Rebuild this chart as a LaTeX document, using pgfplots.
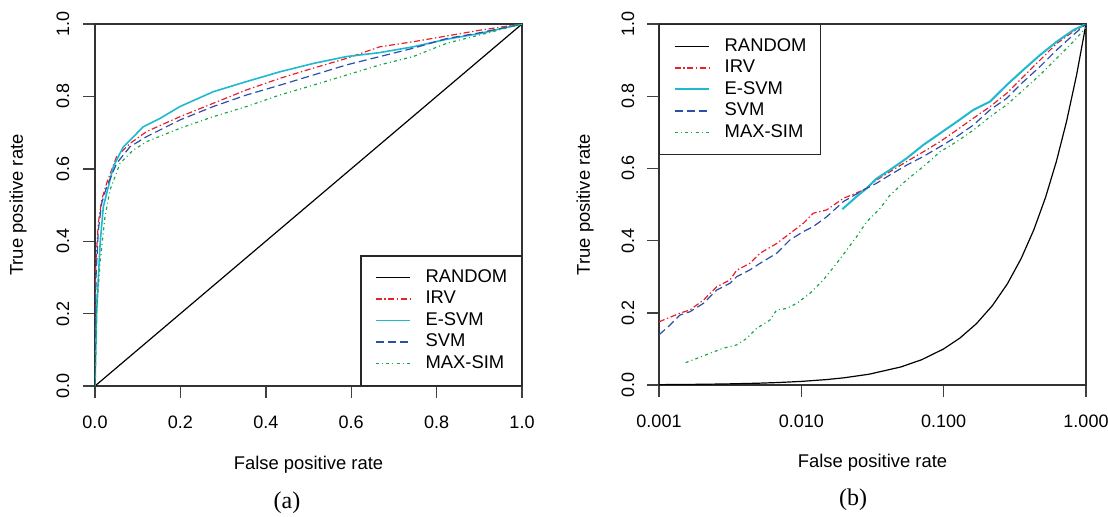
\documentclass[border=0pt]{standalone}
\usepackage{fontspec}
\setmainfont{Liberation Sans}
\newfontfamily\capfont{Liberation Serif}
\usepackage{pgfplots}
\pgfplotsset{compat=1.18}

\definecolor{cRed}{RGB}{232,32,42}
\definecolor{cCyan}{RGB}{30,184,208}
\definecolor{cBlue}{RGB}{42,80,170}
\definecolor{cGreen}{RGB}{24,168,72}

\tikzset{ylab/.style={rotate=90, anchor=center, inner sep=0pt, font=\fontsize{9}{10}\selectfont}}

\pgfplotsset{
  rocbase/.style={
    scale only axis, width=213.5pt, height=181pt,
    anchor=south west,
    ymin=0, ymax=1,
    ytick={0,0.2,...,1.0}, yticklabels={},
    xtick pos=left, ytick pos=left,
    xticklabel style={yshift=-5.5pt},
    /pgf/number format/assume math mode=true,
    tick align=outside, major tick length=6pt,
    axis line style={line width=0.7pt, black!80},
    major tick style={black!75, line width=0.7pt},
    tick label style={font=\fontsize{9}{10}\selectfont},
    label style={font=\fontsize{9.2}{10}\selectfont},
    xlabel={False positive rate},
    ylabel={True positive rate},
    legend style={draw=black!85, line width=0.7pt, fill=white,
      font=\fontsize{9.2}{10}\selectfont,
      inner xsep=7pt, inner ysep=5.5pt, row sep=0pt,
      nodes={inner xsep=0pt, inner ysep=0pt, minimum height=10.75pt, anchor=west},
      /tikz/every odd column/.append style={column sep=7.5pt}},
    legend cell align=left,
    legend image code/.code={\draw[#1] (0pt,0pt) -- (17pt,0pt);},
  },
  rnd/.style={black, line width=0.6pt},
  irv/.style={cRed, line width=0.6pt, dash pattern=on 3pt off 1.3pt on 0.7pt off 1.3pt},
  esvm/.style={cCyan, line width=0.8pt},
  svm/.style={cBlue, line width=0.6pt, dash pattern=on 4pt off 2pt},
  msim/.style={cGreen, line width=0.6pt, dash pattern=on 1.5pt off 1.6pt on 0.5pt off 1.6pt},
}

\begin{document}
\begin{tikzpicture}
\path[use as bounding box] (0,0) rectangle (554pt,258pt);

% (a) linear ROC
\begin{axis}[rocbase, at={(47.5pt,65pt)},
  xmin=0, xmax=1, xtick={0,0.2,...,1.0},
  xticklabels={0.0,0.2,0.4,0.6,0.8,1.0},
  xlabel style={at={(axis description cs:0.5,-0.218)}, anchor=center},
  ylabel style={at={(axis description cs:-0.1803,0.5)}, anchor=center},
  legend style={at={(1,0)}, anchor=south east}]
\addplot[rnd] coordinates {(0,0)(1,1)};
\addplot[irv] coordinates {(0,0)(0.0008,0.25)(0.0023,0.348)(0.0078,0.45)(0.0156,0.514)(0.0273,0.56)(0.0507,0.634)(0.082,0.67)(0.121,0.703)(0.199,0.744)(0.277,0.781)(0.355,0.818)(0.433,0.85)(0.511,0.878)(0.589,0.905)(0.667,0.937)(0.745,0.951)(0.824,0.967)(0.902,0.983)(1,1)};
\addplot[esvm] coordinates {(0,0)(0.004,0.21)(0.012,0.394)(0.0195,0.495)(0.043,0.606)(0.066,0.66)(0.113,0.716)(0.152,0.739)(0.199,0.772)(0.277,0.813)(0.355,0.841)(0.433,0.868)(0.511,0.891)(0.589,0.91)(0.667,0.921)(0.745,0.937)(0.824,0.958)(0.902,0.974)(1,1)};
\addplot[svm] coordinates {(0,0)(0.0023,0.30)(0.0078,0.43)(0.0156,0.505)(0.0273,0.55)(0.0507,0.615)(0.082,0.661)(0.121,0.689)(0.199,0.735)(0.277,0.772)(0.355,0.804)(0.433,0.831)(0.511,0.859)(0.589,0.887)(0.667,0.91)(0.745,0.933)(0.824,0.96)(0.902,0.976)(1,1)};
\addplot[msim] coordinates {(0,0)(0.004,0.21)(0.0117,0.339)(0.0234,0.468)(0.0351,0.541)(0.0585,0.615)(0.0898,0.652)(0.121,0.675)(0.199,0.712)(0.277,0.744)(0.355,0.772)(0.433,0.804)(0.511,0.831)(0.589,0.859)(0.667,0.887)(0.745,0.91)(0.824,0.947)(0.902,0.97)(1,1)};
\legend{RANDOM,IRV,E-SVM,SVM,MAX-SIM}
\end{axis}

% (b) log-x ROC
\begin{axis}[rocbase, at={(329.5pt,65.5pt)}, height=180.5pt,
  xmode=log, xmin=0.001, xmax=1,
  xtick={0.001,0.01,0.1,1}, xticklabels={0.001,0.010,0.100,1.000},
  xminorticks=false,
  xlabel style={at={(axis description cs:0.5,-0.2155)}, anchor=center},
  ylabel style={at={(axis description cs:-0.1733,0.5)}, anchor=center},
  legend style={at={(0,1)}, anchor=north west}]
\addplot[rnd] coordinates {(0.001,0.001)(0.0015,0.0015)(0.002,0.002)(0.003,0.003)(0.005,0.005)(0.007,0.007)(0.01,0.01)(0.015,0.015)(0.02,0.02)(0.03,0.03)(0.05,0.05)(0.07,0.07)(0.1,0.1)(0.13,0.13)(0.17,0.17)(0.22,0.22)(0.28,0.28)(0.35,0.35)(0.43,0.43)(0.52,0.52)(0.62,0.62)(0.73,0.73)(0.86,0.86)(1,1)};
\addplot[irv] coordinates {(0.001,0.175)(0.001404,0.199)(0.001651,0.208)(0.002048,0.235)(0.002542,0.272)(0.003154,0.291)(0.003513,0.318)(0.004358,0.337)(0.005124,0.365)(0.00671,0.392)(0.008326,0.42)(0.01033,0.448)(0.012146,0.476)(0.015066,0.485)(0.019727,0.517)(0.02726,0.54)(0.03382,0.568)(0.04198,0.591)(0.05496,0.619)(0.07194,0.646)(0.09423,0.674)(0.1234,0.706)(0.1616,0.739)(0.2116,0.771)(0.2771,0.808)(0.3628,0.854)(0.4751,0.9)(0.6222,0.946)(0.8149,0.979)(1,1)};
\addplot[esvm, line width=1pt] coordinates {(0.01941,0.487)(0.02447,0.522)(0.02877,0.545)(0.03382,0.572)(0.04198,0.596)(0.05496,0.628)(0.07194,0.665)(0.09423,0.697)(0.1234,0.729)(0.1616,0.762)(0.2116,0.785)(0.2771,0.831)(0.3628,0.873)(0.4751,0.914)(0.6222,0.951)(0.8149,0.983)(1,1)};
\addplot[svm] coordinates {(0.001,0.139)(0.001195,0.166)(0.001404,0.194)(0.001651,0.203)(0.002048,0.226)(0.002542,0.263)(0.003154,0.282)(0.003513,0.30)(0.004358,0.319)(0.005124,0.337)(0.00671,0.365)(0.008326,0.402)(0.01033,0.425)(0.012146,0.439)(0.015066,0.466)(0.019727,0.508)(0.02726,0.54)(0.03382,0.559)(0.04198,0.582)(0.05496,0.609)(0.07194,0.633)(0.09423,0.66)(0.1234,0.688)(0.1616,0.72)(0.2116,0.762)(0.2771,0.794)(0.3628,0.84)(0.4751,0.882)(0.6222,0.928)(0.8149,0.97)(1,1)};
\addplot[msim] coordinates {(0.001539,0.062)(0.001941,0.077)(0.002283,0.088)(0.002831,0.102)(0.003513,0.111)(0.004129,0.129)(0.004856,0.157)(0.006024,0.18)(0.00671,0.208)(0.007887,0.212)(0.009273,0.226)(0.011505,0.254)(0.014275,0.291)(0.017711,0.337)(0.020823,0.374)(0.02447,0.411)(0.02877,0.452)(0.0357,0.489)(0.04198,0.526)(0.05496,0.568)(0.07194,0.605)(0.09423,0.646)(0.1234,0.674)(0.1616,0.706)(0.2116,0.743)(0.2771,0.776)(0.3628,0.817)(0.4751,0.859)(0.6222,0.905)(0.8149,0.951)(1,0.99)};
\legend{RANDOM,IRV,E-SVM,SVM,MAX-SIM}
\end{axis}

% rotated y tick labels, R style
\foreach \v/\t in {0/0.0,0.2/0.2,0.4/0.4,0.6/0.6,0.8/0.8,1/1.0} {
  \node[ylab] at (31.5pt,65pt+181pt*\v) {\t};
  \node[ylab] at (314pt,65.5pt+180.5pt*\v) {\t};
}

\node[font=\capfont\fontsize{12}{14}\selectfont] at (143.5pt,6.5pt) {(a)};
\node[font=\capfont\fontsize{12}{14}\selectfont] at (426.5pt,8pt) {(b)};
\end{tikzpicture}
\end{document}
